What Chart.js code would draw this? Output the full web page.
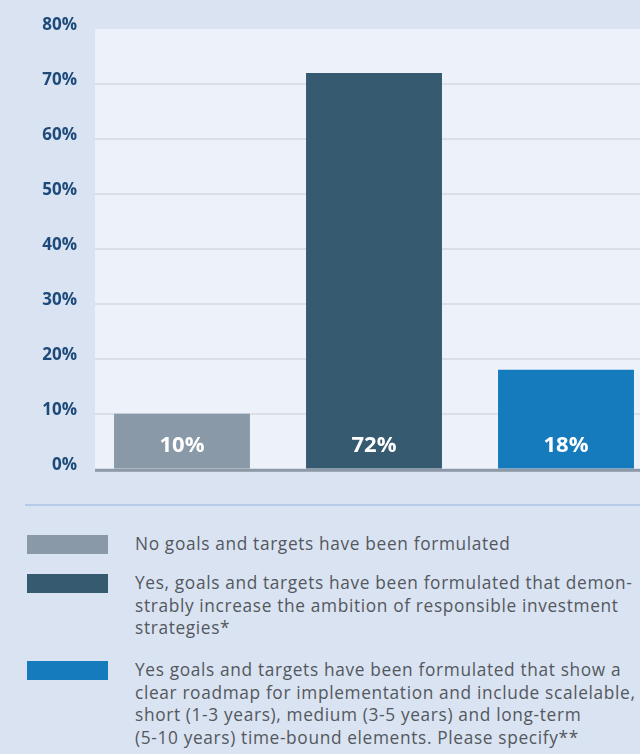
<!DOCTYPE html>
<html>
<head>
<meta charset="utf-8">
<script src="https://cdn.jsdelivr.net/npm/chart.js@4/dist/chart.umd.min.js"></script>
<style>
  html, body { margin: 0; padding: 0; background: #dae3f1; width: 640px; height: 754px; overflow: hidden; }
  #wrap { position: relative; width: 680px; height: 488px; }
  #sep { position: absolute; left: 25px; top: 504px; width: 615px; height: 2px; background: #b7cae8; }
  #legend { position: absolute; left: 0; top: 0; width: 640px; }
  .item { position: absolute; left: 0; }
  .sw { position: absolute; left: 27px; width: 81px; height: 19px; }
  .txt { position: absolute; left: 135px; white-space: nowrap; font-family: "Open Sans", sans-serif; font-size: 17.3px; letter-spacing: 0.65px; line-height: 22.5px; color: #53585f; }
</style>
</head>
<body>
<div id="wrap"><canvas id="myChart"></canvas></div>
<div id="sep"></div>
<div id="legend"></div>
<script>
const categories = ["No goals", "Yes, ambition", "Yes, roadmap"];
const values = [10, 72, 18];
const barColors = ["#8a99a8", "#365a70", "#167bbd"];
const legendLines = [
  ["No goals and targets have been formulated"],
  ["Yes, goals and targets have been formulated that demon-",
   "strably increase the ambition of responsible investment",
   "strategies*"],
  ["Yes goals and targets have been formulated that show a",
   "clear roadmap for implementation and include scalelable,",
   "short (1-3 years), medium (3-5 years) and long-term",
   "(5-10 years) time-bound elements. Please specify**"]
];
const legendTops = [535, 574, 661];

// legend below the chart
let legend = document.getElementById('legend');
legendLines.forEach((lines, i) => {
  let item = document.createElement('div');
  item.className = 'item';
  item.style.top = legendTops[i] + 'px';
  item.innerHTML = `<div class="sw" style="background:${barColors[i]}"></div>` +
    `<div class="txt" style="top:-2px">${lines.join('<br>')}</div>`;
  legend.appendChild(item);
});

const plotLeft = 95;

const plotBg = {
  id: 'plotBg',
  beforeDatasetsDraw(chart) {
    const {ctx, chartArea, scales} = chart;
    const y = scales.y;
    ctx.save();
    ctx.fillStyle = '#edf2fa';
    ctx.fillRect(plotLeft, chartArea.top, 640 - plotLeft, chartArea.bottom - chartArea.top);
    ctx.strokeStyle = '#dadfe7';
    ctx.lineWidth = 2;
    y.ticks.forEach(t => {
      if (t.value <= 0 || t.value >= 80) return;
      const py = Math.round(y.getPixelForValue(t.value));
      ctx.beginPath();
      ctx.moveTo(plotLeft, py);
      ctx.lineTo(640, py);
      ctx.stroke();
    });
    ctx.restore();
  },
  afterDatasetsDraw(chart) {
    const {ctx, scales} = chart;
    const y0 = scales.y.getPixelForValue(0);
    ctx.save();
    ctx.fillStyle = '#8d99a7';
    ctx.fillRect(plotLeft, y0, 640 - plotLeft, 3);
    // value labels inside bars
    ctx.fillStyle = '#ffffff';
    ctx.font = 'bold 22px "Open Sans", sans-serif';
    ctx.textAlign = 'center';
    ctx.textBaseline = 'middle';
    chart.getDatasetMeta(0).data.forEach((bar, i) => {
      ctx.fillText(values[i] + '%', bar.x, y0 - 23);
    });
    ctx.restore();
  }
};

new Chart("myChart", {
  type: "bar",
  data: {
    labels: categories,
    datasets: [{
      data: values,
      backgroundColor: barColors,
      borderWidth: 0,
      categoryPercentage: 1,
      barPercentage: 0.708
    }]
  },
  options: {
    responsive: true,
    maintainAspectRatio: false,
    animation: false,
    layout: { padding: { top: 29, right: 18, bottom: 0, left: 0 } },
    plugins: {
      legend: { display: false },
      tooltip: { enabled: false }
    },
    scales: {
      x: {
        display: false
      },
      y: {
        min: 0,
        max: 80,
        ticks: {
          stepSize: 10,
          padding: 9,
          labelOffset: -4,
          color: '#1d4a7a',
          font: { family: '"Open Sans", sans-serif', weight: 'bold', size: 17 },
          callback: v => v + '%'
        },
        grid: { display: false, drawTicks: false },
        border: { display: false },
        afterFit(scale) { scale.width = 86; }
      }
    }
  },
  plugins: [plotBg]
});
</script>
</body>
</html>
